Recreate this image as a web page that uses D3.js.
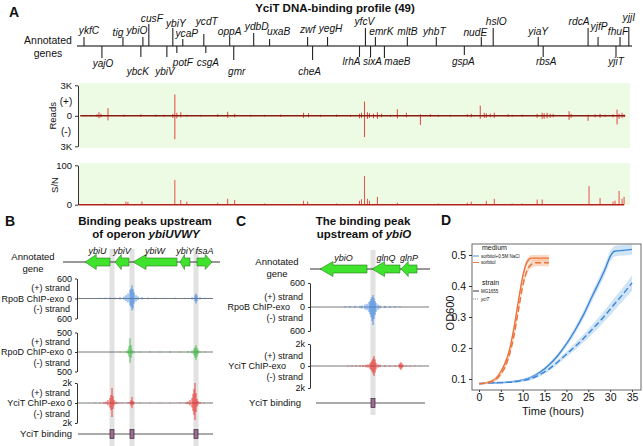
<!DOCTYPE html>
<html><head><meta charset="utf-8">
<script src="https://cdn.jsdelivr.net/npm/d3@7"></script>
<style>
body{margin:0;background:#fff}
svg{display:block}
text{font-family:'Liberation Sans',Arial,Helvetica,sans-serif;fill:#111}
</style></head>
<body><svg id="chart" width="643" height="446"></svg>
<script>
// ---------------- Panel A data ----------------
const genesAbove=["ykfC","tig","ybiO","cusF","ybiY","ycaP","ycdT","oppA","ydbD","uxaB","zwf","yegH","yfcV","emrK","mltB","yhbT","nudE","hslO","yiaY","rdcA","yjfP","fhuF","yjjI"];
const genesAbovePos=[0.042,0.370,0.538,0.588,0.790,0.874,1.051,1.269,1.471,1.605,1.925,2.093,2.412,2.496,2.765,3.009,3.388,3.488,3.867,4.287,4.371,4.556,4.630];
const genesBelow=["yajO","ybcK","ybiV","potF","csgA","gmr","cheA","lrhA","sixA","maeB","gspA","rbsA","yjiT"];
const genesBelowPos=[0.193,0.521,0.740,0.824,1.068,1.303,1.967,2.362,2.455,2.572,3.245,3.909,4.522];
// label layout (px) for the gene ruler
const aboveTick=[9,9,9,22,18,7,12,9,13,7,9,9,18,9,9,9,9,18,9,18,9,9,19];
const aboveLift=[12,10,12,24,19,9,21,11,16,11,13,14,21,11,11,11,10,21,11,21,16,11,25];
const aboveDx=[5,-5,-6,3,3,4,3,0,3,9,0,3,-1,6,0,-2,-6,3,0,-9,1,-2,0];
const belowTick=[12,11,11,7,7,14,14,11,11,12,9,11,11];
const belowDrop=[21,29,29,20,20,29,29,19,19,19,19,19,19];
const belowDx=[1,-3,-2,6,2,3,-3,-8,2,13,-1,3,0];

// Reads (K) by genome position (Mb)
const readsPos=[0.050,0.101,0.151,0.168,0.185,0.244,0.378,0.521,0.647,0.715,0.790,0.807,0.824,0.857,0.908,1.026,1.168,1.252,1.311,1.446,1.563,1.698,1.891,1.933,2.034,2.169,2.286,2.362,2.379,2.404,2.429,2.446,2.480,2.513,2.547,2.623,2.681,2.757,2.875,2.959,3.026,3.127,3.270,3.303,3.379,3.413,3.430,3.463,3.497,3.614,3.648,3.732,3.858,3.900,3.917,3.942,3.968,3.993,4.127,4.144,4.287,4.346,4.388,4.430,4.497,4.531,4.548,4.573,4.590];
const readsPlus=[0.05,0.08,0.15,0.35,0.2,0.75,0.12,0.15,0.12,0.1,0.2,2.1,0.3,0.35,0.1,0.1,0.15,0.4,0.2,0.1,0.1,0.12,0.3,0.25,0.1,0.12,0.1,0.2,0.3,1.4,0.35,0.25,0.2,0.35,0.2,0.1,0.65,0.3,0.15,0.15,0.1,0.1,0.15,0.2,1.0,0.3,0.25,0.2,0.3,0.15,0.1,0.12,0.2,0.3,0.25,0.3,0.2,0.2,0.45,0.2,0.1,0.15,0.2,0.1,0.15,0.6,0.2,0.3,0.15];
const readsMinus=[0.05,0.06,0.1,0.25,0.15,0.45,0.1,0.1,0.1,0.12,0.2,2.3,0.25,0.15,0.1,0.08,0.1,0.2,0.15,0.1,0.08,0.1,0.2,0.15,0.1,0.1,0.1,0.25,0.2,2.1,0.3,0.2,0.25,0.3,0.15,0.1,0.25,0.15,0.9,0.1,0.1,0.08,0.1,0.15,0.3,0.2,0.2,0.15,0.2,0.1,0.1,0.1,0.2,0.3,0.3,0.25,0.2,0.15,0.4,0.2,0.5,0.15,0.2,0.1,0.15,0.85,0.3,0.2,0.15];
// S/N by genome position (Mb)
const snPos=[0.219,0.395,0.412,0.530,0.807,0.857,0.908,1.168,1.252,1.311,1.563,1.891,1.925,2.169,2.362,2.379,2.404,2.429,2.446,2.513,2.681,3.026,3.270,3.303,3.430,3.497,3.648,3.732,3.858,3.900,4.295,4.388,4.497,4.514,4.548,4.573,4.590];
const snValue=[3,8,7,8,63,12,8,5,15,12,3,10,8,3,10,14,73,15,10,20,5,3,5,8,10,15,3,3,13,13,47,17,8,10,35,15,20];

// ---------------- Panel B data (bp offsets) ----------------
const bGenes=["ybiU","ybiV","ybiW","ybiY","fsaA"];
const bGeneStart=[440,1040,1400,2340,2680];
const bGeneEnd=[940,1320,2280,2540,2980];
const bGeneStrand=[-1,-1,-1,-1,1];
const bSites=[980,1380,2660];
const bRpoBPos=[380,540,740,840,940,1040,1140,1220,1260,1300,1340,1360,1380,1400,1420,1460,1500,1580,1700,1840,2040,2240,2440,2580,2640,2660,2680,2740,2840,2940];
const bRpoBPlus=[15,15,20,25,30,30,40,60,100,150,250,300,390,280,180,100,60,40,30,25,20,25,20,40,100,150,90,40,25,20];
const bRpoBMinus=[10,15,15,20,20,25,30,40,80,120,200,250,360,300,150,90,50,30,25,20,15,20,20,30,80,150,80,30,20,15];
const bRpoDPos=[1140,1260,1300,1320,1340,1360,1380,1420,1540,1740,1940,2140,2340,2500,2580,2620,2640,2660,2680,2700,2740,2840];
const bRpoDPlus=[10,20,60,150,350,180,60,20,15,20,15,20,15,25,40,80,120,175,100,50,20,10];
const bRpoDMinus=[10,20,50,120,275,150,50,20,15,15,15,20,15,20,40,80,150,200,120,50,20,10];
const bYciTPos=[640,740,820,860,900,940,960,980,1000,1020,1060,1100,1180,1300,1340,1360,1380,1400,1420,1540,1740,1940,2140,2340,2460,2500,2540,2580,2600,2620,2640,2660,2680,2700,2740,2820,2940];
const bYciTPlus=[30,40,80,150,300,500,800,1500,700,300,150,60,40,50,100,300,600,200,60,30,30,25,30,40,80,150,300,500,900,1400,2000,1000,400,200,100,50,30];
const bYciTMinus=[30,40,60,120,250,450,700,1400,600,250,120,50,30,40,80,250,500,200,50,30,25,25,25,30,70,120,250,450,800,1200,1700,900,350,150,80,40,25];

// ---------------- Panel C data (bp offsets) ----------------
const cGenes=["ybiO","glnQ","glnP"];
const cGeneStart=[160,1200,1780];
const cGeneEnd=[1100,1760,2100];
const cGeneStrand=[-1,-1,-1];
const cSites=[1220];
const cRpoBPos=[660,760,860,960,1000,1060,1100,1140,1160,1180,1200,1220,1240,1260,1280,1320,1360,1460,1560,1660,1760];
const cRpoBPlus=[20,25,30,30,40,60,80,120,150,200,250,300,220,150,100,60,40,30,25,20,15];
const cRpoBMinus=[15,20,25,30,40,60,80,120,180,250,350,450,300,200,120,70,40,30,20,15,10];
const cYciTPos=[720,800,880,960,1020,1080,1120,1160,1180,1200,1220,1240,1260,1280,1320,1360,1460,1560,1660,1740,1760,1780,1800,1820,1880,1960,2060,2160];
const cYciTPlus=[30,40,50,60,80,120,150,250,350,500,700,900,600,300,150,100,60,50,60,150,250,350,200,100,50,40,30,20];
const cYciTMinus=[30,40,50,60,80,120,150,250,350,500,700,900,600,300,150,100,60,50,50,120,250,350,200,80,50,40,30,20];

// ---------------- Panel D data ----------------
const tFast=[0,1,2,3,4,5,6,7,8,9,10,11,12,13,14,15,16];
const odSorbitolWT=[0.085,0.086,0.089,0.094,0.104,0.124,0.152,0.195,0.265,0.35,0.43,0.478,0.49,0.49,0.49,0.49,0.49];
const odSorbitolMut=[0.085,0.086,0.088,0.092,0.1,0.116,0.14,0.18,0.24,0.32,0.4,0.45,0.47,0.475,0.475,0.475,0.475];
const seSorbitolWT=[0.003,0.003,0.003,0.004,0.005,0.006,0.007,0.008,0.009,0.01,0.01,0.01,0.01,0.01,0.01,0.01,0.01];
const seSorbitolMut=[0.003,0.003,0.003,0.004,0.005,0.006,0.007,0.008,0.009,0.01,0.011,0.011,0.011,0.011,0.011,0.011,0.011];
const tSlow=[0,2,4,6,8,10,12,14,16,18,20,22,24,26,28,29,30,31,33,35];
const odNaClWT=[0.085,0.087,0.088,0.089,0.092,0.097,0.106,0.122,0.145,0.175,0.213,0.258,0.31,0.37,0.428,0.46,0.495,0.512,0.515,0.518];
const odNaClMut=[0.085,0.087,0.088,0.089,0.091,0.095,0.102,0.115,0.132,0.155,0.18,0.205,0.232,0.262,0.292,0.308,0.325,0.342,0.375,0.41];
const seNaClWT=[0.003,0.003,0.003,0.003,0.003,0.004,0.005,0.006,0.007,0.008,0.009,0.011,0.013,0.015,0.016,0.017,0.017,0.017,0.017,0.017];
const seNaClMut=[0.003,0.003,0.003,0.003,0.003,0.004,0.005,0.006,0.007,0.008,0.009,0.011,0.013,0.015,0.017,0.018,0.019,0.02,0.022,0.025];
const dXTicks=[0,5,10,15,20,25,30,35];
const dYTicks=[0.1,0.2,0.3,0.4,0.5];
const mediumLabels=["sorbitol+0.5M NaCl","sorbitol"];
const strainLabels=["MG1655","yciT"];

// ---------------- drawing ----------------
const svg=d3.select("#chart");
svg.append("rect").attr("width",643).attr("height",446).attr("fill","#fff");

function letter(t,x,y){svg.append("text").attr("x",x).attr("y",y).attr("font-size",14).attr("font-weight","bold").text(t);}

// ===== Panel A =====
letter("A",9,17);
svg.append("text").attr("x",335).attr("y",12).attr("text-anchor","middle").attr("font-size",11.5).attr("font-weight","bold").text("YciT DNA-binding profile (49)");
const xA=d3.scaleLinear().domain([0,4.64]).range([79,630]);
const rulerY=46;
svg.append("text").attr("x",48).attr("y",44).attr("text-anchor","middle").attr("font-size",10.5).text("Annotated");
svg.append("text").attr("x",48).attr("y",57).attr("text-anchor","middle").attr("font-size",10.5).text("genes");
svg.append("line").attr("x1",77).attr("x2",632).attr("y1",rulerY).attr("y2",rulerY).attr("stroke","#555").attr("stroke-width",1.4);
const gA=svg.append("g");
genesAbove.forEach((n,i)=>{
  const x=xA(genesAbovePos[i]);
  gA.append("line").attr("x1",x).attr("x2",x).attr("y1",rulerY).attr("y2",rulerY-aboveTick[i]).attr("stroke","#222").attr("stroke-width",1.1);
  gA.append("text").attr("x",x+aboveDx[i]).attr("y",rulerY-aboveLift[i]).attr("text-anchor","middle").attr("font-size",10.2).attr("font-style","italic").text(n);
});
genesBelow.forEach((n,i)=>{
  const x=xA(genesBelowPos[i]);
  gA.append("line").attr("x1",x).attr("x2",x).attr("y1",rulerY).attr("y2",rulerY+belowTick[i]).attr("stroke","#222").attr("stroke-width",1.1);
  gA.append("text").attr("x",x+belowDx[i]).attr("y",rulerY+belowDrop[i]).attr("text-anchor","middle").attr("font-size",10).attr("font-style","italic").text(n);
});

// Reads
const yR=d3.scaleLinear().domain([-3,3]).range([146.3,85.3]);
svg.append("rect").attr("x",79).attr("y",83).attr("width",551).attr("height",65).attr("fill","#eefbe4");
const gR=svg.append("g");
readsPos.forEach((p,i)=>{
  const x=xA(p);
  gR.append("line").attr("x1",x).attr("x2",x).attr("y1",yR(0)).attr("y2",yR(readsPlus[i])).attr("stroke","#e0302a").attr("stroke-width",0.9);
  gR.append("line").attr("x1",x).attr("x2",x).attr("y1",yR(0)).attr("y2",yR(-readsMinus[i])).attr("stroke","#e0302a").attr("stroke-width",0.9);
});
svg.append("line").attr("x1",xA(0.01)).attr("x2",xA(4.6)).attr("y1",yR(0)).attr("y2",yR(0)).attr("stroke","#8a1a12").attr("stroke-width",1.6);
const axR=svg.append("g").attr("transform","translate(78,0)").call(d3.axisLeft(yR).tickValues([-3,0,3]).tickSize(3).tickSizeOuter(0).tickFormat(d=>d===0?"0":"3K"));
axR.selectAll("text").attr("font-size",9.5).attr("fill","#222");
axR.selectAll("path,line").attr("stroke","#333");
svg.append("text").attr("x",66).attr("y",yR(1.45)).attr("dy","0.35em").attr("text-anchor","middle").attr("font-size",10).text("(+)");
svg.append("text").attr("x",66).attr("y",yR(-1.5)).attr("dy","0.35em").attr("text-anchor","middle").attr("font-size",10).text("(-)");
svg.append("text").attr("transform",`translate(56,${yR(0)}) rotate(-90)`).attr("text-anchor","middle").attr("font-size",9.5).text("Reads");

// S/N
const yS=d3.scaleLinear().domain([0,100]).range([204.7,165.3]);
svg.append("rect").attr("x",79).attr("y",163).attr("width",551).attr("height",42).attr("fill","#eefbe4");
const gS=svg.append("g");
snPos.forEach((p,i)=>{
  const x=xA(p);
  gS.append("line").attr("x1",x).attr("x2",x).attr("y1",yS(0)).attr("y2",yS(snValue[i])).attr("stroke","#e2403a").attr("stroke-width",0.9);
});
svg.append("line").attr("x1",79).attr("x2",xA(4.59)).attr("y1",yS(0)).attr("y2",yS(0)).attr("stroke","#b4201a").attr("stroke-width",1.5);
const axS=svg.append("g").attr("transform","translate(78,0)").call(d3.axisLeft(yS).tickValues([0,100]).tickSize(3).tickSizeOuter(0));
axS.selectAll("text").attr("font-size",9.5).attr("fill","#222");
axS.selectAll("path,line").attr("stroke","#333");
svg.append("text").attr("transform",`translate(58,${yS(50)}) rotate(-90)`).attr("text-anchor","middle").attr("font-size",9.5).text("S/N");

// ===== helpers for B/C =====
function arrowPath(x0,x1,strand,cy){
  const len=Math.abs(x1-x0), hl=Math.min(13,0.45*len), bh=4, hh=7.5;
  if(strand<0){
    return `M${x0},${cy} L${x0+hl},${cy-hh} L${x0+hl},${cy-bh} L${x1},${cy-bh} L${x1},${cy+bh} L${x0+hl},${cy+bh} L${x0+hl},${cy+hh} Z`;
  }
  return `M${x1},${cy} L${x1-hl},${cy-hh} L${x1-hl},${cy-bh} L${x0},${cy-bh} L${x0},${cy+bh} L${x1-hl},${cy+bh} L${x1-hl},${cy+hh} Z`;
}
function geneTrack(x,names,st,en,strand,cy,lineX0,lineX1){
  svg.append("line").attr("x1",lineX0).attr("x2",lineX1).attr("y1",cy).attr("y2",cy).attr("stroke","#333").attr("stroke-width",1);
  names.forEach((n,i)=>{
    const a=x(st[i]),b=x(en[i]);
    svg.append("path").attr("d",arrowPath(a,b,strand[i],cy)).attr("fill","#3fe22c").attr("stroke","#2c7a22").attr("stroke-width",0.6);
    svg.append("text").attr("x",(a+b)/2).attr("y",cy-8).attr("text-anchor","middle").attr("font-size",9).attr("font-style","italic").text(n);
  });
}
function chipTrack(x,axisX,x0,x1,zeroY,half,maxVal,maxLabel,name,nameRight,color,pos,plus,minus){
  const y=d3.scaleLinear().domain([-maxVal,maxVal]).range([zeroY+half,zeroY-half]);
  svg.append("line").attr("x1",axisX).attr("x2",x1).attr("y1",zeroY).attr("y2",zeroY).attr("stroke","#555").attr("stroke-width",0.8);
  const g=svg.append("g");
  pos.forEach((p,i)=>{
    const xx=x(p);
    g.append("line").attr("x1",xx).attr("x2",xx).attr("y1",zeroY).attr("y2",y(plus[i])).attr("stroke",color).attr("stroke-width",0.9);
    g.append("line").attr("x1",xx).attr("x2",xx).attr("y1",zeroY).attr("y2",y(-minus[i])).attr("stroke",color).attr("stroke-width",0.9);
  });
  const ax=svg.append("g").attr("transform",`translate(${axisX},0)`).call(d3.axisLeft(y).tickValues([-maxVal,0,maxVal]).tickSize(2).tickSizeOuter(0).tickFormat(d=>d===0?"0":maxLabel));
  ax.selectAll("text").attr("font-size",9).attr("fill","#222");
  ax.selectAll("path,line").attr("stroke","#333");
  svg.append("text").attr("x",axisX-7).attr("y",zeroY-10.5).attr("dy","0.35em").attr("text-anchor","end").attr("font-size",9).text("(+) strand");
  svg.append("text").attr("x",nameRight).attr("y",zeroY).attr("dy","0.35em").attr("text-anchor","end").attr("font-size",9).text(name);
  svg.append("text").attr("x",axisX-7).attr("y",zeroY+10.5).attr("dy","0.35em").attr("text-anchor","end").attr("font-size",9).text("(-) strand");
}
function bindingTrack(x,sites,cy,x0,x1,labelRight){
  svg.append("text").attr("x",labelRight).attr("y",cy).attr("dy","0.35em").attr("text-anchor","end").attr("font-size",9.5).text("YciT binding");
  svg.append("line").attr("x1",x0).attr("x2",x1).attr("y1",cy).attr("y2",cy).attr("stroke","#555").attr("stroke-width",1);
  sites.forEach(s=>{
    svg.append("rect").attr("x",x(s)-2).attr("y",cy-4.5).attr("width",4).attr("height",9).attr("fill","#9c6a92").attr("stroke","#3a2a36").attr("stroke-width",0.7);
  });
}

// ===== Panel B =====
letter("B",5,226);
svg.append("text").attr("x",145).attr("y",225).attr("text-anchor","middle").attr("font-size",11.5).attr("font-weight","bold").text("Binding peaks upstream");
const tB=svg.append("text").attr("x",146).attr("y",238).attr("text-anchor","middle").attr("font-size",11.5).attr("font-weight","bold");
tB.append("tspan").text("of operon ");
tB.append("tspan").attr("font-style","italic").text("ybiUVWY");
const xB=d3.scaleLinear().domain([0,3140]).range([63,220]);
bSites.forEach(s=>svg.append("rect").attr("x",xB(s)-2.5).attr("y",249).attr("width",5).attr("height",197).attr("fill","#e2e2e2"));
svg.append("text").attr("x",33).attr("y",260).attr("text-anchor","middle").attr("font-size",9.5).text("Annotated");
svg.append("text").attr("x",33).attr("y",272).attr("text-anchor","middle").attr("font-size",9.5).text("gene");
geneTrack(xB,bGenes,bGeneStart,bGeneEnd,bGeneStrand,262,xB(0),xB(3140));
chipTrack(xB,77,xB(280),xB(3000),298.5,20,600,"600","RpoB ChIP-exo",64,"#3f86e0",bRpoBPos,bRpoBPlus,bRpoBMinus);
chipTrack(xB,77,xB(280),xB(3000),352,19.5,500,"500","RpoD ChIP-exo",64,"#38b83c",bRpoDPos,bRpoDPlus,bRpoDMinus);
chipTrack(xB,77,xB(280),xB(3000),403,20,2000,"2k","YciT ChIP-exo",65,"#e8302a",bYciTPos,bYciTPlus,bYciTMinus);
bindingTrack(xB,bSites,434,xB(300),xB(3000),72);

// ===== Panel C =====
letter("C",236,226);
svg.append("text").attr("x",363).attr("y",225).attr("text-anchor","middle").attr("font-size",11.5).attr("font-weight","bold").text("The binding peak");
const tC=svg.append("text").attr("x",364).attr("y",238).attr("text-anchor","middle").attr("font-size",11.5).attr("font-weight","bold");
tC.append("tspan").text("upstream of ");
tC.append("tspan").attr("font-style","italic").text("ybiO");
const xC=d3.scaleLinear().domain([0,2360]).range([312,430]);
cSites.forEach(s=>svg.append("rect").attr("x",xC(s)-2.5).attr("y",250).attr("width",5).attr("height",165).attr("fill","#e2e2e2"));
svg.append("text").attr("x",277).attr("y",265).attr("text-anchor","middle").attr("font-size",9.5).text("Annotated");
svg.append("text").attr("x",277).attr("y",277).attr("text-anchor","middle").attr("font-size",9.5).text("gene");
geneTrack(xC,cGenes,cGeneStart,cGeneEnd,cGeneStrand,269,xC(-40),xC(2360));
chipTrack(xC,310,xC(-40),xC(2340),307,24,600,"600","RpoB ChIP-exo",290,"#3f86e0",cRpoBPos,cRpoBPlus,cRpoBMinus);
chipTrack(xC,310,xC(-40),xC(2340),366,22,2000,"2k","YciT ChIP-exo",286,"#e8302a",cYciTPos,cYciTPlus,cYciTMinus);
bindingTrack(xC,cSites,403,xC(80),xC(2260),301);

// ===== Panel D =====
letter("D",441,225);
const xD=d3.scaleLinear().domain([-1.6,37.05]).range([472,641]);
const yD=d3.scaleLinear().domain([0.0645,0.5355]).range([390,244]);
const gD=svg.append("g");
function series(t,m,se,color,fill,dash){
  const area=d3.area().x((d,i)=>xD(t[i])).y0((d,i)=>yD(m[i]-se[i])).y1((d,i)=>yD(m[i]+se[i])).curve(d3.curveMonotoneX);
  gD.append("path").attr("d",area(m)).attr("fill",fill).attr("opacity",0.55);
  const line=d3.line().x((d,i)=>xD(t[i])).y(d=>yD(d)).curve(d3.curveMonotoneX);
  gD.append("path").attr("d",line(m)).attr("fill","none").attr("stroke",color).attr("stroke-width",1.4).attr("stroke-dasharray",dash);
}
series(tSlow,odNaClWT,seNaClWT,"#3d86d6","#a9cdf3",null);
series(tSlow,odNaClMut,seNaClMut,"#3d86d6","#a9cdf3","6,3");
series(tFast,odSorbitolWT,seSorbitolWT,"#ec7038","#f7b994",null);
series(tFast,odSorbitolMut,seSorbitolMut,"#ec7038","#f7b994","6,3");
svg.append("rect").attr("x",472).attr("y",244).attr("width",169).attr("height",146).attr("fill","none").attr("stroke","#444").attr("stroke-width",0.8);
const axDy=svg.append("g").attr("transform","translate(472,0)").call(d3.axisLeft(yD).tickValues(dYTicks).tickSize(3).tickSizeOuter(0).tickFormat(d3.format(".1f")));
axDy.select(".domain").remove();
axDy.selectAll("text").attr("font-size",10.5).attr("fill","#333");
axDy.selectAll("line").attr("stroke","#333");
const axDx=svg.append("g").attr("transform","translate(0,390)").call(d3.axisBottom(xD).tickValues(dXTicks).tickSize(2).tickPadding(2).tickSizeOuter(0));
axDx.select(".domain").remove();
axDx.selectAll("text").attr("font-size",10.5).attr("fill","#333");
axDx.selectAll("line").attr("stroke","#333");
svg.append("text").attr("x",553).attr("y",415).attr("text-anchor","middle").attr("font-size",11).text("Time (hours)");
svg.append("text").attr("transform","translate(454,313) rotate(-90)").attr("text-anchor","middle").attr("font-size",11).text("OD600");
// legend
svg.append("text").attr("x",482).attr("y",250).attr("font-size",7).text("medium");
const medColors=["#3d86d6","#ec7038"];
mediumLabels.forEach((l,i)=>{
  const y=256+i*6.5;
  svg.append("line").attr("x1",473).attr("x2",479).attr("y1",y).attr("y2",y).attr("stroke",medColors[i]).attr("stroke-width",0.9);
  svg.append("text").attr("x",481).attr("y",y).attr("dy","0.35em").attr("font-size",4.5).text(l);
});
svg.append("text").attr("x",482).attr("y",285).attr("font-size",7).text("strain");
strainLabels.forEach((l,i)=>{
  const y=291+i*8;
  svg.append("line").attr("x1",473).attr("x2",479).attr("y1",y).attr("y2",y).attr("stroke",i?"#777":"#222").attr("stroke-width",0.9).attr("stroke-dasharray",i?"1,1":null);
  svg.append("text").attr("x",481).attr("y",y).attr("dy","0.35em").attr("font-size",4.5).attr("font-style",i?"italic":"normal").text(l);
});
</script></body></html>
